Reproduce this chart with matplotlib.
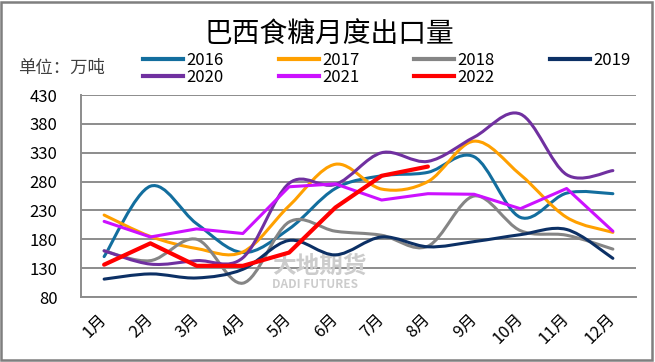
import numpy as np
import matplotlib
matplotlib.use("Agg")
import matplotlib.pyplot as plt
from matplotlib.path import Path
from matplotlib.patches import PathPatch, Rectangle
from matplotlib.lines import Line2D

plt.rcParams['font.family'] = ['Noto Sans CJK SC', 'DejaVu Sans']

# 数据 (万吨)
months = ['1月', '2月', '3月', '4月', '5月', '6月', '7月', '8月', '9月', '10月', '11月', '12月']
s2016 = [150, 272, 207, 157, 198, 268, 290, 296, 323, 218, 260, 259]
s2017 = [222, 185, 164, 158, 238, 310, 267, 280, 350, 292, 218, 192]
s2018 = [160, 143, 180, 104, 210, 194, 187, 168, 255, 195, 187, 163]
s2019 = [111, 120, 113, 128, 178, 153, 184, 167, 176, 188, 197, 147]
s2020 = [160, 137, 143, 148, 277, 275, 330, 315, 357, 397, 292, 299]
s2021 = [211, 184, 198, 190, 271, 276, 248, 259, 258, 233, 268, 194]
s2022 = [136, 173, 134, 134, 157, 235, 290, 306]
yticks = [80, 130, 180, 230, 280, 330, 380, 430]


def smooth_path(y):
    # excel-like smoothed line: cubic bezier through every point
    pts = np.column_stack([np.arange(len(y)), np.asarray(y, float)])
    n = len(pts)
    verts = [pts[0]]
    codes = [Path.MOVETO]
    for i in range(n - 1):
        p0 = pts[max(i - 1, 0)]
        p1 = pts[i]
        p2 = pts[i + 1]
        p3 = pts[min(i + 2, n - 1)]
        verts += [p1 + (p2 - p0) / 6, p2 - (p3 - p1) / 6, p2]
        codes += [Path.CURVE4] * 3
    return Path(verts, codes)


fig = plt.figure(figsize=(6.55, 3.62), dpi=100)
ax = fig.add_axes([81 / 655, 1 - 297 / 362, 555 / 655, 202 / 362])

series = [
    ('2016', s2016, '#136e9e', 2.2, True),
    ('2017', s2017, '#ffa000', 2.2, True),
    ('2018', s2018, '#858585', 2.2, True),
    ('2019', s2019, '#0c3065', 2.2, True),
    ('2020', s2020, '#7030a0', 2.2, True),
    ('2021', s2021, '#cc11ff', 2.2, False),
    ('2022', s2022, '#ff0000', 3.0, False),
]

handles = {}
for i, (name, vals, col, lw, smooth) in enumerate(series):
    if smooth:
        ax.add_patch(PathPatch(smooth_path(vals), facecolor='none', edgecolor=col,
                               lw=lw, zorder=3 + i, capstyle='round'))
    else:
        ax.plot(range(len(vals)), vals, color=col, lw=lw, zorder=3 + i,
                solid_capstyle='round')
    handles[name] = Line2D([], [], color=col, lw=3)

ax.set_xlim(-0.5, 11.5)
ax.set_ylim(80, 430)
ax.set_yticks(yticks)
ax.set_xticks(range(12))
ax.set_xticklabels(months, rotation=45, ha='right', va='center', rotation_mode='anchor')
ax.tick_params(axis='y', length=0, pad=17, labelsize=12)
ax.tick_params(axis='x', length=0, pad=14, labelsize=12)
ax.grid(axis='y', color='#8c8c8c', lw=1.4, zorder=1)
ax.set_axisbelow(True)
for s in ['top', 'right']:
    ax.spines[s].set_visible(False)
for s in ['left', 'bottom']:
    ax.spines[s].set_color('#8c8c8c')
    ax.spines[s].set_linewidth(1.4)

# watermark
ax.text(0.345, 0.155, '大地期货', transform=ax.transAxes, fontsize=17, color='#cccccc',
        fontweight='bold', ha='left', va='center', zorder=2)
ax.text(0.345, 0.06, 'DADI FUTURES', transform=ax.transAxes, fontsize=8.5, color='#cccccc',
        fontweight='bold', ha='left', va='center', zorder=2)

fig.text(0.503, 1 - 35 / 362, '巴西食糖月度出口量', fontsize=20, ha='center', va='center')
fig.text(18 / 655, 1 - 68 / 362, '单位：万吨', fontsize=12.5, ha='left', va='center',
         color='#404040')

order = ['2016', '2020', '2017', '2021', '2018', '2022', '2019']
fig.legend([handles[k] for k in order], order, ncol=4, frameon=False,
           loc='upper left', bbox_to_anchor=(143 / 655, 1 - 52 / 362),
           borderaxespad=0, borderpad=0, fontsize=12, handlelength=2.4,
           handletextpad=0.2, columnspacing=3.3, labelspacing=0.0)

fig.patches.append(Rectangle((1 / 655, 2 / 362), 651 / 655, 358 / 362,
                             transform=fig.transFigure, fill=False,
                             edgecolor='#7f7f7f', lw=1.8))

fig.savefig('out.png', dpi=100)
